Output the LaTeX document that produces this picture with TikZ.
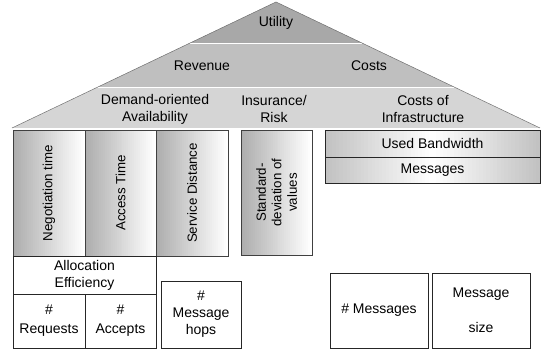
\documentclass[tikz,border=0pt]{standalone}
\usepackage{fontspec}
\setmainfont{Liberation Sans}
\usetikzlibrary{calc,backgrounds}
\definecolor{tritop}{RGB}{168,168,168}
\definecolor{trimid}{RGB}{191,191,191}
\definecolor{tribot}{RGB}{213,213,213}
\begin{document}
\begin{tikzpicture}[x=1pt, y=1pt,
    every node/.style={font=\fontsize{14}{17}\selectfont, align=center, inner sep=0pt, outer sep=0pt},
    vtext/.style={rotate=90, font=\fontsize{13.3}{16}\selectfont},
    metric/.style={draw=black!75, line width=0.9pt},
    bar/.style={draw=black!85, line width=0.9pt},
    plain/.style={draw=black!85, line width=0.8pt, fill=white}]
    \useasboundingbox (0,0) rectangle (547,352);

    % The roof: three bands
    \fill[tribot] (12,224) -- (276,350) -- (540,224) -- cycle;
    \fill[trimid] (98,265) -- (190,309) -- (362,309) -- (454,265) -- cycle;
    \fill[tritop] (190,309) -- (276,350) -- (362,309) -- cycle;
    \draw[white, line width=0.8pt] (190,309) -- (362,309);
    \draw[white, line width=0.8pt] (98,265) -- (454,265);
    \draw[black!55, line width=0.5pt] (12,224) -- (276,350) -- (540,224);

    % Labels in the roof
    \node (utility) at (276,329) {Utility};
    \node (revenue) at (202,286) {Revenue};
    \node (costs) at (369,286) {Costs};
    \node (avail) at (155,243) {Demand-oriented\\Availability};
    \node (risk) at (274,243) {Insurance/\\Risk};
    \node (infra) at (423,243) {Costs of\\Infrastructure};

    % Pillars
    \node[metric, minimum width=72pt, minimum height=126pt] (negot) at (49,159) {};
    \node[vtext] (negotlbl) at (negot) {Negotiation time};
    \node[metric, minimum width=71pt, minimum height=126pt] (access) at (120.5,159) {};
    \node[vtext] (accesslbl) at (access) {Access Time};
    \node[metric, minimum width=72pt, minimum height=126pt] (dist) at (192,159) {};
    \node[vtext] (distlbl) at (dist) {Service Distance};
    \node[metric, minimum width=71pt, minimum height=125pt] (stddev) at (276.5,159.5) {};
    \node[vtext, font=\fontsize{13.3}{15.5}\selectfont] (stddevlbl) at (stddev) {Standard-\\deviation of\\values};

    % Infrastructure bars
    \node[bar, minimum width=215pt, minimum height=27pt] (bandw) at (432.5,208.5) {Used Bandwidth};
    \node[bar, minimum width=215pt, minimum height=26pt] (msgs) at (432.5,182) {Messages};

    % Gradients behind pillars and bars
    \begin{pgfonlayer}{background}
      \foreach \p in {negot,access,dist,stddev}{
        \foreach \k in {0,...,35}{
          \pgfmathsetmacro\shadeval{32*(1-\k/35)}
          \pgfmathtruncatemacro\kk{\k+1}
          \fill[black!\shadeval] ($(\p.south west)!\k/36!(\p.south east)$)
            rectangle ($(\p.north west)!\kk/36!(\p.north east)$);
        }
      }
      \foreach \p in {bandw,msgs}{
        \foreach \k in {0,...,59}{
          \pgfmathsetmacro\shadeval{24*abs(1-\k/29.5)}
          \pgfmathtruncatemacro\kk{\k+1}
          \fill[black!\shadeval] ($(\p.south west)!\k/60!(\p.south east)$)
            rectangle ($(\p.north west)!\kk/60!(\p.north east)$);
        }
      }
    \end{pgfonlayer}

    % Foundations
    \node[plain, minimum width=143pt, minimum height=38pt] (alloc) at (84.5,77) {Allocation\\Efficiency};
    \node[plain, minimum width=72pt, minimum height=54pt] (requests) at (49,31) {\#\\[2pt]Requests};
    \node[plain, minimum width=71pt, minimum height=54pt] (accepts) at (120.5,31) {\#\\[2pt]Accepts};
    \node[plain, minimum width=80pt, minimum height=67pt] (hops) at (201,37.5) {\#\\Message\\hops};
    \node[plain, minimum width=98pt, minimum height=75pt] (nummsgs) at (379,41.5) {\# Messages};
    \node[plain, minimum width=98pt, minimum height=75pt] (msgsize) at (481,41.5) {Message\\[18pt]size};
  \end{tikzpicture}
\end{document}
